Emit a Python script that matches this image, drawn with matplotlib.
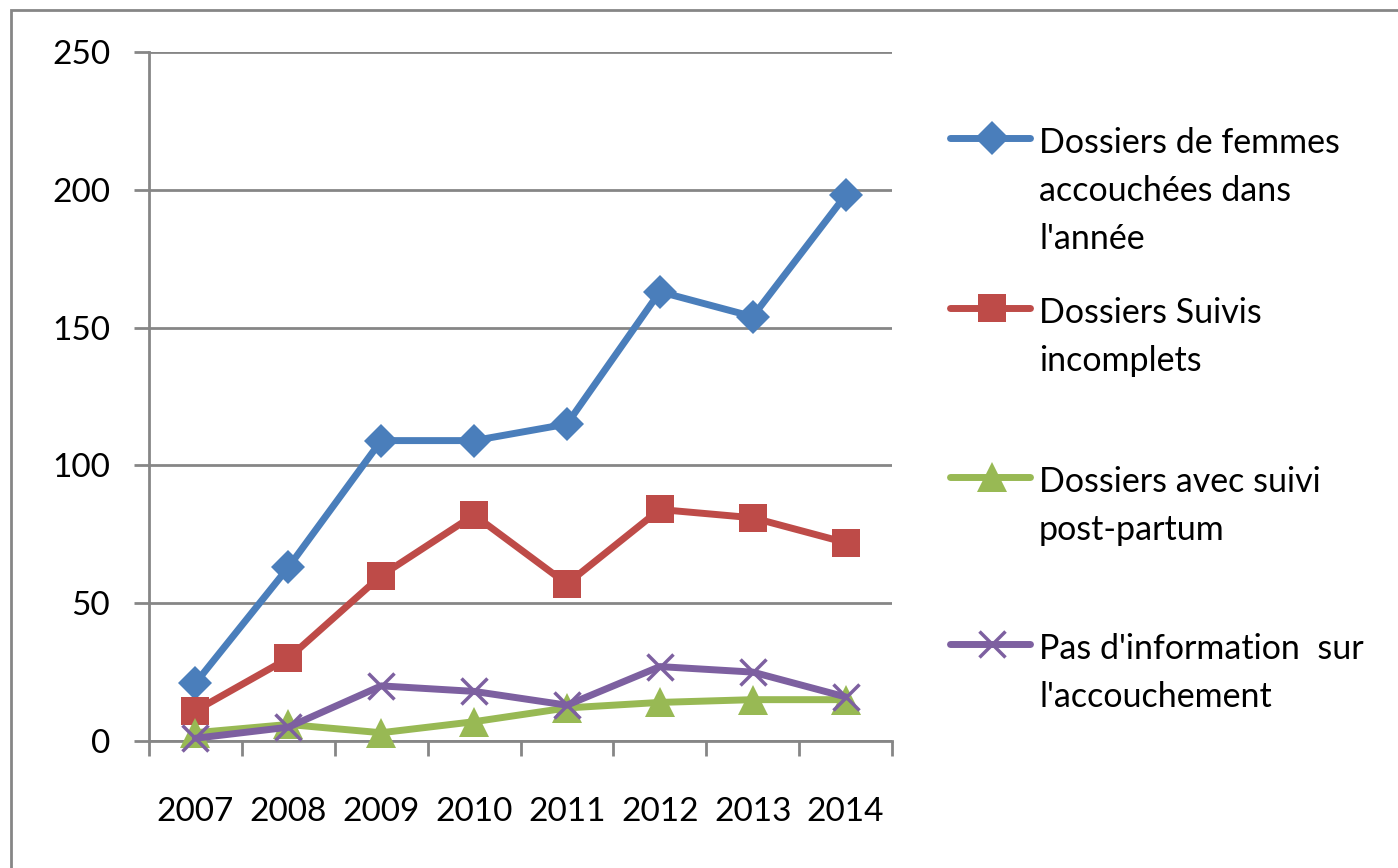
import matplotlib
matplotlib.use("Agg")
import matplotlib.pyplot as plt
from matplotlib.lines import Line2D
from matplotlib.patches import Rectangle

# data
years = ["2007", "2008", "2009", "2010", "2011", "2012", "2013", "2014"]
femmes = [21, 63, 109, 109, 115, 163, 154, 198]
incomplets = [11, 30, 60, 82, 57, 84, 81, 72]
post_partum = [3, 6, 3, 7, 12, 14, 15, 15]
pas_info = [1, 5, 20, 18, 13, 27, 25, 16]

labels = [
    "Dossiers de femmes\naccouchées dans\nl'année",
    "Dossiers Suivis\nincomplets",
    "Dossiers avec suivi\npost-partum",
    "Pas d'information  sur\nl'accouchement",
]
colors = ["#4A7EBB", "#BE4B48", "#98B954", "#7D60A0"]
markers = ["D", "s", "^", "x"]
msizes = [17, 20, 21, 19]

plt.rcParams["font.family"] = ["Lato", "DejaVu Sans"]
fig = plt.figure(figsize=(13.98, 8.68), dpi=100)
ax = fig.add_axes([149 / 1398, 1 - 741 / 868, (892 - 149) / 1398, (741 - 52) / 868])

x = list(range(len(years)))
series = [femmes, incomplets, post_partum, pas_info]
for vals, c, m, ms in zip(series, colors, markers, msizes):
    ax.plot(x, vals, color=c, lw=5, marker=m, ms=ms, mew=2.5 if m == "x" else 0,
            mec=c, mfc=c, solid_capstyle="round", zorder=3, clip_on=False)

grid_c = "#868686"
ax.set_xlim(-0.5, len(years) - 0.5)
ax.set_ylim(0, 250)
ax.set_yticks(range(0, 251, 50))
ax.yaxis.grid(True, color=grid_c, lw=2)
ax.set_axisbelow(True)
ax.set_xticks(x)
ax.set_xticklabels(years)
ax.set_xticks([i - 0.5 for i in range(len(years) + 1)], minor=True)
ax.tick_params(axis="x", which="major", length=0, pad=40, labelsize=24)
ax.tick_params(axis="x", which="minor", length=11, width=2, color=grid_c)
ax.tick_params(axis="y", length=11, width=2, color=grid_c, pad=17, labelsize=24)
for s in ["top", "right"]:
    ax.spines[s].set_visible(False)
for s in ["left", "bottom"]:
    ax.spines[s].set_color(grid_c)
    ax.spines[s].set_linewidth(2)

# manual legend, handle aligned with first text line as in the original
leg_y = [138, 308, 477, 644]
for lab, c, m, ms, yy in zip(labels, colors, markers, msizes, leg_y):
    fy = 1 - yy / 868
    fig.add_artist(Line2D([950 / 1398, 1030 / 1398], [fy, fy], transform=fig.transFigure,
                          color=c, lw=5, solid_capstyle="round"))
    fig.add_artist(Line2D([992 / 1398], [fy], transform=fig.transFigure, color=c,
                          marker=m, ms=ms, mew=2.5 if m == "x" else 0, mec=c, mfc=c))
    fig.text(1039 / 1398, 1 - (yy - 11) / 868, lab, fontsize=24.5, va="top", ha="left",
             linespacing=1.62)

# outer chart border
fig.add_artist(Rectangle((11 / 1398, -0.1), 1.2, 1 - 10 / 868 + 0.1, transform=fig.transFigure,
                         fill=False, ec=grid_c, lw=2))

fig.savefig("out.png", dpi=100)
